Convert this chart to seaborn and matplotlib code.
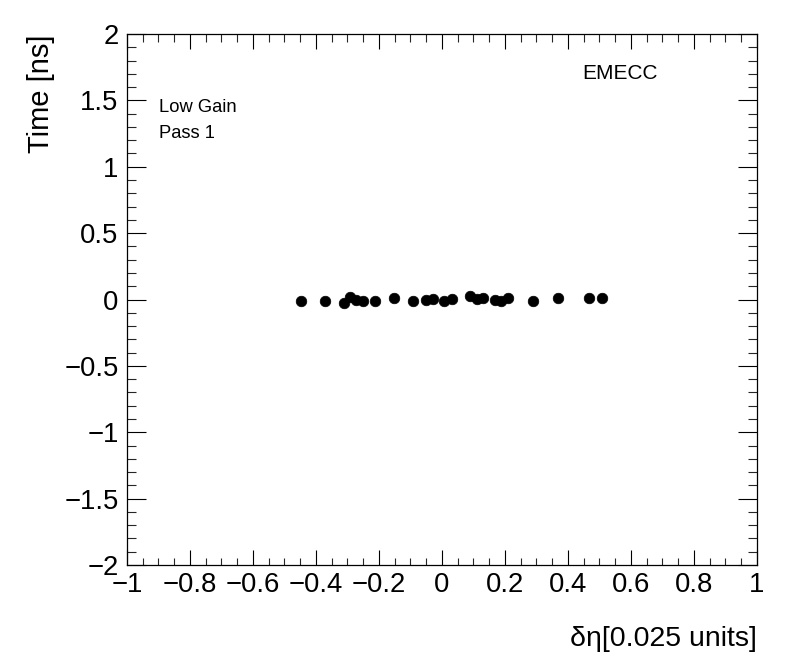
import matplotlib
matplotlib.use("Agg")
import matplotlib.pyplot as plt
import seaborn as sns
import pandas as pd
from matplotlib.ticker import MultipleLocator

deta = [-0.449, -0.370, -0.311, -0.292, -0.273, -0.250, -0.213, -0.151, -0.091,
        -0.052, -0.030, 0.006, 0.031, 0.089, 0.110, 0.129, 0.168, 0.187, 0.209,
        0.288, 0.369, 0.468, 0.509]
time_ns = [-0.01, -0.01, -0.03, 0.02, -0.005, -0.01, -0.01, 0.015, -0.01,
           -0.005, 0.005, -0.01, 0.005, 0.03, 0.005, 0.01, 0.0, -0.01, 0.015,
           -0.01, 0.015, 0.015, 0.015]
x_ticks = [-1, -0.8, -0.6, -0.4, -0.2, 0, 0.2, 0.4, 0.6, 0.8, 1]
y_ticks = [-2, -1.5, -1, -0.5, 0, 0.5, 1, 1.5, 2]

sns.set_style("white")
plt.rcParams['font.family'] = ['Liberation Sans', 'DejaVu Sans']
plt.rcParams['text.color'] = 'black'
plt.rcParams['axes.labelcolor'] = 'black'

df = pd.DataFrame({"deta": deta, "time": time_ns})

fig = plt.figure(figsize=(7.96, 6.72), dpi=100)
ax = fig.add_axes([0.1595, 0.1592, 0.7915, 0.7902])
sns.scatterplot(data=df, x="deta", y="time", ax=ax, color="black",
                s=58, edgecolor="black", linewidth=0.5, legend=False)

ax.set_xlim(-1, 1)
ax.set_ylim(-2, 2)
ax.set_xticks(x_ticks)
ax.set_xticklabels([f"{v:g}".replace("-", "\u2212") for v in x_ticks])
ax.set_yticks(y_ticks)
ax.set_yticklabels([f"{v:g}".replace("-", "\u2212") for v in y_ticks])
ax.xaxis.set_minor_locator(MultipleLocator(0.05))
ax.yaxis.set_minor_locator(MultipleLocator(0.1))
ax.tick_params(axis="x", which="major", direction="in", length=10.8, width=0.8,
               top=True, bottom=True, labelsize=19.8, pad=5, colors="black")
ax.tick_params(axis="x", which="minor", direction="in", length=5.4, width=0.8,
               top=True, bottom=True)
ax.tick_params(axis="y", which="major", direction="in", length=13.5, width=0.8,
               left=True, right=True, labelsize=19.8, pad=6, colors="black")
ax.tick_params(axis="y", which="minor", direction="in", length=6.8, width=0.8,
               left=True, right=True)
for sp in ax.spines.values():
    sp.set_color("black")
    sp.set_linewidth(0.9)

ax.set_xlabel("\u03b4\u03b7[0.025 units]", fontsize=20.5, loc="right", labelpad=20)
ax.set_ylabel("Time [ns]", fontsize=21, loc="top", labelpad=7)

ax.text(0.722, 0.925, "EMECC", transform=ax.transAxes, fontsize=15,
        va="center", ha="left")
ax.text(0.051, 0.861, "Low Gain", transform=ax.transAxes, fontsize=13.2,
        va="center", ha="left")
ax.text(0.051, 0.812, "Pass 1", transform=ax.transAxes, fontsize=13.2,
        va="center", ha="left")

fig.savefig("out.png", dpi=100)
